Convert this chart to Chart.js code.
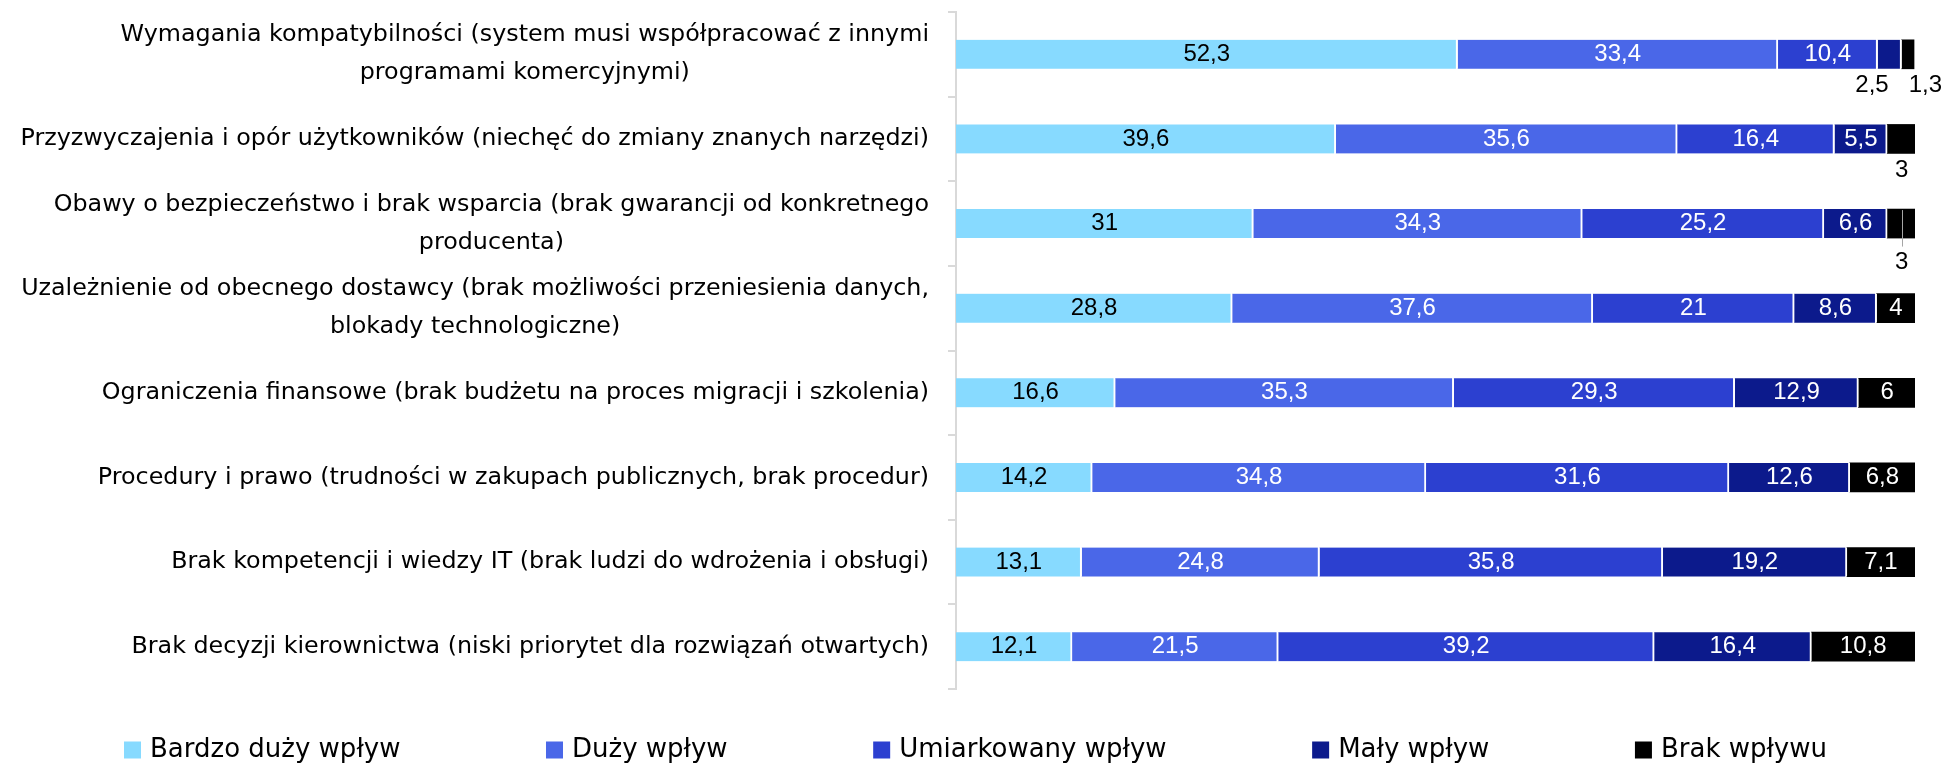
<!DOCTYPE html>
<html lang="pl">
<head>
<meta charset="utf-8">
<title>Bariery migracji do rozwiązań otwartych</title>
<script src="https://cdn.jsdelivr.net/npm/chart.js@4.4.1/dist/chart.umd.min.js"></script>
<style>
  html, body { margin: 0; padding: 0; background: #ffffff; }
  #wrap { position: relative; width: 1947px; height: 764px; }
</style>
</head>
<body>
<div id="wrap"><canvas id="chart"></canvas></div>
<script>
// Categories (multi-line labels are given as arrays of lines)
const categories = [
  ['Wymagania kompatybilności (system musi współpracować z innymi', 'programami komercyjnymi)'],
  'Przyzwyczajenia i opór użytkowników (niechęć do zmiany znanych narzędzi)',
  ['Obawy o bezpieczeństwo i brak wsparcia (brak gwarancji od konkretnego', 'producenta)'],
  ['Uzależnienie od obecnego dostawcy (brak możliwości przeniesienia danych,', 'blokady technologiczne)'],
  'Ograniczenia finansowe (brak budżetu na proces migracji i szkolenia)',
  'Procedury i prawo (trudności w zakupach publicznych, brak procedur)',
  'Brak kompetencji i wiedzy IT (brak ludzi do wdrożenia i obsługi)',
  'Brak decyzji kierownictwa (niski priorytet dla rozwiązań otwartych)'
];

const seriesNames = ['Bardzo duży wpływ', 'Duży wpływ', 'Umiarkowany wpływ', 'Mały wpływ', 'Brak wpływu'];

// Percentages per category, one array per answer
const bardzoDuzy   = [52.3, 39.6, 31.0, 28.8, 16.6, 14.2, 13.1, 12.1];
const duzy         = [33.4, 35.6, 34.3, 37.6, 35.3, 34.8, 24.8, 21.5];
const umiarkowany  = [10.4, 16.4, 25.2, 21.0, 29.3, 31.6, 35.8, 39.2];
const maly         = [ 2.5,  5.5,  6.6,  8.6, 12.9, 12.6, 19.2, 16.4];
const brak         = [ 1.3,  3.0,  3.0,  4.0,  6.0,  6.8,  7.1, 10.8];

const seriesValues = [bardzoDuzy, duzy, umiarkowany, maly, brak];
const seriesColors = ['#87DAFF', '#4A67E8', '#2C40D0', '#0C1A8C', '#000000'];

const LABEL_FONT = '23.8px "DejaVu Sans", sans-serif';
const VALUE_FONT = '24px "Liberation Sans", Arial, sans-serif';
const LEGEND_FONT = '26px "DejaVu Sans", sans-serif';

const fmt = v => String(v).replace('.', ',');

// Category labels: block right-aligned to the axis, lines centred inside the block
const categoryLabels = {
  id: 'categoryLabels',
  afterDraw(chart, args, opts) {
    const y = chart.scales.y;
    const ctx = chart.ctx;
    ctx.save();
    ctx.font = LABEL_FONT;
    ctx.fillStyle = '#000000';
    ctx.textAlign = 'center';
    ctx.textBaseline = 'middle';
    chart.data.labels.forEach((lab, i) => {
      const lines = Array.isArray(lab) ? lab : [lab];
      const widest = Math.max(...lines.map(l => ctx.measureText(l).width));
      const cx = opts.right - widest / 2;
      const cy = y.getPixelForTick(i);
      const n = lines.length;
      lines.forEach((l, k) => {
        ctx.fillText(l, cx, cy + (k - (n - 1) / 2) * opts.lineSpacing);
      });
    });
    ctx.restore();
  }
};

// Value labels: inside the segment when there is room, otherwise below the bar
const valueLabels = {
  id: 'valueLabels',
  afterDatasetsDraw(chart, args, opts) {
    const ctx = chart.ctx;
    ctx.save();
    ctx.font = VALUE_FONT;
    ctx.textBaseline = 'middle';
    ctx.textAlign = 'center';
    const outside = {};
    chart.data.datasets.forEach((ds, di) => {
      const meta = chart.getDatasetMeta(di);
      meta.data.forEach((bar, i) => {
        const v = ds.data[i];
        const txt = fmt(v);
        const tw = ctx.measureText(txt).width;
        const left = Math.min(bar.x, bar.base);
        const w = Math.abs(bar.x - bar.base);
        const cx = left + w / 2;
        if (w >= tw + opts.minRoom) {
          ctx.fillStyle = di === 0 ? '#000000' : '#ffffff';
          ctx.fillText(txt, cx, bar.y);
        } else {
          (outside[i] = outside[i] || []).push({ txt, tw, x: cx, y: bar.y, h: bar.height });
        }
      });
    });
    Object.keys(outside).forEach(k => {
      const row = outside[k].sort((a, b) => a.x - b.x);
      // spread labels that would overlap
      for (let j = 1; j < row.length; j++) {
        const a = row[j - 1], b = row[j];
        const need = (a.tw + b.tw) / 2 + opts.gap;
        if (b.x - a.x < need) {
          const mid = (a.x + b.x) / 2;
          a.x = mid - need / 2;
          b.x = mid + need / 2;
        }
      }
      const idx = Number(k);
      const special = opts.leader[idx];
      row.forEach(l => {
        const drop = special ? special : opts.drop;
        const ly = l.y + drop;
        if (special) {
          ctx.strokeStyle = '#a6a6a6';
          ctx.lineWidth = 1;
          ctx.beginPath();
          ctx.moveTo(Math.round(l.x) + 0.5, l.y - l.h / 2 + 1);
          ctx.lineTo(Math.round(l.x) + 0.5, ly - 16);
          ctx.stroke();
        }
        ctx.fillStyle = '#000000';
        ctx.fillText(l.txt, l.x, ly);
      });
    });
    ctx.restore();
  }
};

// Legend row spread across a fixed span under the plot
const spreadLegend = {
  id: 'spreadLegend',
  afterDraw(chart, args, opts) {
    const ctx = chart.ctx;
    ctx.save();
    ctx.font = LEGEND_FONT;
    ctx.textBaseline = 'middle';
    ctx.textAlign = 'left';
    const items = chart.data.datasets.map(ds => ({
      text: ds.label, color: ds.backgroundColor,
      w: opts.box + opts.boxGap + ctx.measureText(ds.label).width
    }));
    const total = items.reduce((s, it) => s + it.w, 0);
    const gap = (opts.right - opts.left - total) / (items.length - 1);
    let x = opts.left;
    items.forEach(it => {
      ctx.fillStyle = it.color;
      ctx.fillRect(x, opts.y - opts.box / 2, opts.box, opts.box);
      ctx.fillStyle = '#000000';
      ctx.fillText(it.text, x + opts.box + opts.boxGap, opts.y);
      x += it.w + gap;
    });
    ctx.restore();
  }
};

const datasets = seriesNames.map((name, i) => ({
  label: name,
  data: seriesValues[i],
  backgroundColor: seriesColors[i],
  borderColor: '#ffffff',
  borderWidth: i < seriesNames.length - 1 ? { left: 0, right: 2, top: 0, bottom: 0 } : 0,
  borderSkipped: false,
  barThickness: 29
}));

new Chart(document.getElementById('chart'), {
  type: 'bar',
  data: { labels: categories, datasets },
  plugins: [valueLabels, categoryLabels, spreadLegend],
  options: {
    indexAxis: 'y',
    responsive: true,
    maintainAspectRatio: false,
    animation: false,
    layout: { padding: { left: 0, right: 32, top: 12, bottom: 75 } },
    scales: {
      x: { stacked: true, display: false, min: 0, max: 100 },
      y: {
        stacked: true,
        afterFit(scale) { scale.width = 956; },
        ticks: { display: false },
        grid: { offset: true, drawOnChartArea: false, drawTicks: true, tickLength: 8, color: '#d9d9d9', lineWidth: 2 },
        border: { display: true, color: '#d9d9d9', width: 2 }
      }
    },
    plugins: {
      legend: { display: false },
      tooltip: { enabled: false },
      categoryLabels: { right: 929, lineSpacing: 38 },
      valueLabels: { minRoom: 16, gap: 20, drop: 31, leader: { 2: 39 } },
      spreadLegend: { left: 124, right: 1827, y: 750, box: 17, boxGap: 9 }
    }
  }
});
</script>
</body>
</html>
